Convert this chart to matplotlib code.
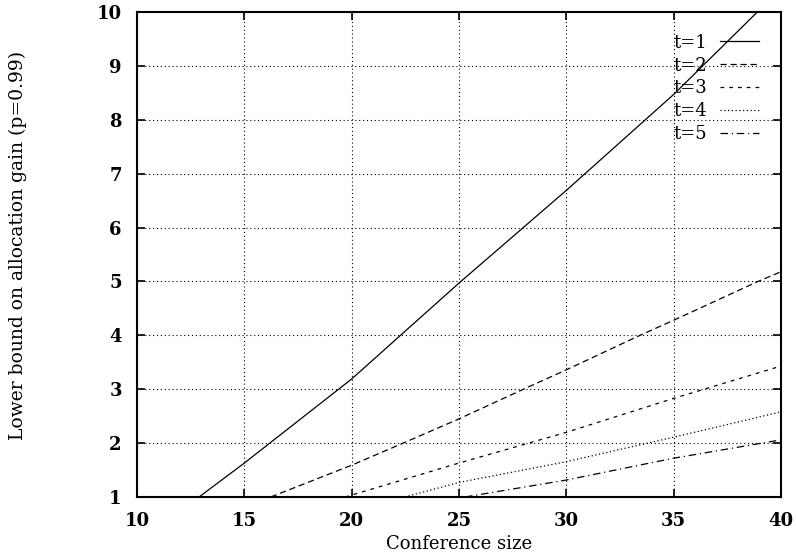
import matplotlib
matplotlib.use("Agg")
import matplotlib.pyplot as plt

# Data
t1_x = [12.89, 15, 20, 25, 30, 35, 38.9]
t1_y = [1.0, 1.63, 3.19, 4.97, 6.69, 8.47, 10.0]
t2_x = [16.23, 20, 22.4, 25, 28.0, 30, 33.43, 35, 38.93, 40]
t2_y = [1.0, 1.59, 2.0, 2.45, 3.0, 3.36, 4.0, 4.28, 5.0, 5.18]
t3_x = [19.7, 25, 30, 35, 40]
t3_y = [1.0, 1.63, 2.20, 2.83, 3.43]
t4_x = [22.48, 25, 30, 35, 40]
t4_y = [1.0, 1.27, 1.655, 2.11, 2.58]
t5_x = [25.28, 30, 35, 40]
t5_y = [1.0, 1.315, 1.72, 2.06]
labels = ["t=1", "t=2", "t=3", "t=4", "t=5"]
xticks = [10, 15, 20, 25, 30, 35, 40]
yticks = [1, 2, 3, 4, 5, 6, 7, 8, 9, 10]

plt.rcParams['font.family'] = ['DejaVu Serif']
fig = plt.figure(figsize=(7.96, 5.56), dpi=100)
ax = fig.add_axes([137/796, 1-497/556, (781-137)/796, (497-12)/556])

styles = ['-', (0, (5, 3)), (0, (3, 4)), (0, (1, 2)), (0, (6, 3, 1, 3))]
series = [(t1_x, t1_y), (t2_x, t2_y), (t3_x, t3_y), (t4_x, t4_y), (t5_x, t5_y)]
for (xs, ys), ls, lab in zip(series, styles, labels):
    ax.plot(xs, ys, color='black', lw=0.9, linestyle=ls, label=lab)

ax.set_xlim(10, 40)
ax.set_ylim(1, 10)
ax.set_xticks(xticks)
ax.set_yticks(yticks)
ax.tick_params(direction='in', top=True, right=True, length=6, width=1.2,
               labelsize=13)
ax.tick_params(axis='x', pad=11)
ax.tick_params(axis='y', pad=11)
for lab in ax.get_xticklabels() + ax.get_yticklabels():
    lab.set_fontweight('bold')
ax.grid(True, color='black', linestyle=(0, (1, 2.5)), lw=0.8)
for s in ax.spines.values():
    s.set_linewidth(1.5)

ax.set_xlabel("Conference size", fontsize=13)
ax.set_ylabel("Lower bound on allocation gain (p=0.99)", fontsize=13.5)
ax.xaxis.set_label_coords(0.5, -(544 - 497) / 485)
ax.yaxis.set_label_coords((18 - 137) / 644, (497 - 245) / 485)
ax.xaxis.label.set_va('center')
ax.yaxis.label.set_va('center')

leg = ax.legend(loc='upper right', frameon=False, markerfirst=False,
                fontsize=13, handlelength=2.2, labelspacing=0.27,
                borderaxespad=0.8, handletextpad=0.7)

fig.savefig("out.png", dpi=100)
